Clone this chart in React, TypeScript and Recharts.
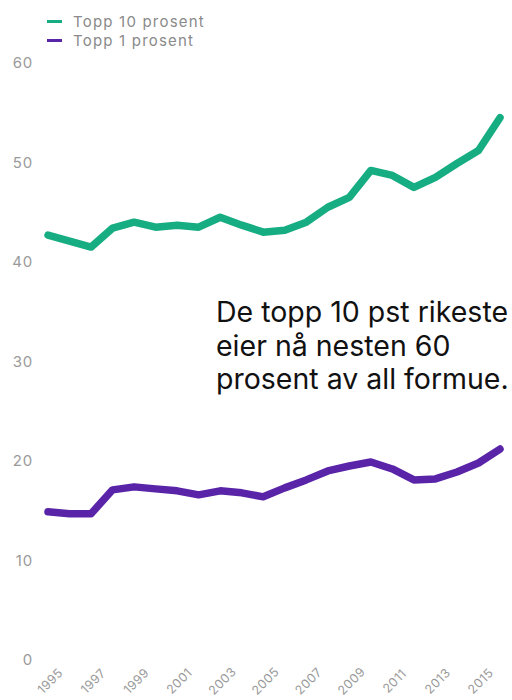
import { LineChart, Line, XAxis, YAxis } from 'recharts'

const FONT = "Inter, 'Noto Sans', sans-serif"

const years = [
  1995, 1996, 1997, 1998, 1999, 2000, 2001, 2002, 2003, 2004, 2005,
  2006, 2007, 2008, 2009, 2010, 2011, 2012, 2013, 2014, 2015, 2016,
]
const top10 = [
  42.7, 42.1, 41.5, 43.4, 44.0, 43.5, 43.7, 43.5, 44.5, 43.7, 43.0,
  43.2, 44.0, 45.5, 46.5, 49.2, 48.7, 47.5, 48.5, 49.9, 51.2, 54.5,
]
const top1 = [
  14.9, 14.7, 14.7, 17.1, 17.4, 17.2, 17.0, 16.6, 17.0, 16.8, 16.4,
  17.3, 18.1, 19.0, 19.5, 19.9, 19.2, 18.1, 18.2, 18.9, 19.8, 21.2,
]
const xTicks = [1995, 1997, 1999, 2001, 2003, 2005, 2007, 2009, 2011, 2013, 2015]
const yTicks = [0, 10, 20, 30, 40, 50, 60]

const GREEN = '#17ad82'
const PURPLE = '#5a24a8'

const series = [
  { key: 'top10', label: 'Topp 10 prosent', color: GREEN },
  { key: 'top1', label: 'Topp 1 prosent', color: PURPLE },
]

const data = years.map((year, i) => ({ year, top10: top10[i], top1: top1[i] }))

function YearTick({ x, y, payload }: any) {
  const cx = x + 2
  const cy = y + 21
  return (
    <text
      x={cx}
      y={cy}
      transform={`rotate(-45, ${cx}, ${cy})`}
      textAnchor="middle"
      dominantBaseline="central"
      fontSize={12.5}
      letterSpacing={0.4}
      fontFamily={FONT}
      fill="#9a9a9a"
    >
      {payload.value}
    </text>
  )
}

function LegendBox() {
  return (
    <div style={{ position: 'absolute', left: 47, top: 12, display: 'flex', flexDirection: 'column' }}>
      {series.map(it => (
        <div key={it.key} style={{ display: 'flex', alignItems: 'center', height: '19px' }}>
          <span style={{ width: '15px', height: '3px', background: it.color, marginRight: '11px' }} />
          <span style={{ fontSize: '15px', letterSpacing: '1.2px', fontFamily: FONT, color: '#8a8a8a', lineHeight: 1 }}>
            {it.label}
          </span>
        </div>
      ))}
    </div>
  )
}

export default function App() {
  return (
    <div style={{ position: 'absolute', left: 0, top: 0, width: 512, height: 700, background: '#fff', overflow: 'hidden' }}>
      <LineChart width={512} height={700} data={data} margin={{ top: 63, right: 0, bottom: 0, left: 0 }}>
        <XAxis
          dataKey="year"
          type="number"
          domain={[1995, 2016]}
          ticks={xTicks}
          padding={{ left: 15, right: 12 }}
          axisLine={false}
          tickLine={false}
          tickSize={0}
          tickMargin={0}
          height={40}
          interval={0}
          tick={<YearTick />}
        />
        <YAxis
          domain={[0, 60]}
          ticks={yTicks}
          width={33}
          axisLine={false}
          tickLine={false}
          tickSize={0}
          tickMargin={0}
          tick={{ fontSize: 15, letterSpacing: 0.8, fontFamily: FONT, fill: '#9a9a9a' }}
        />
        {series.map(s => (
          <Line
            key={s.key}
            type="linear"
            dataKey={s.key}
            stroke={s.color}
            strokeWidth={7.5}
            strokeLinecap="round"
            strokeLinejoin="round"
            dot={false}
            isAnimationActive={false}
          />
        ))}
      </LineChart>
      <LegendBox />
      <div
        style={{
          position: 'absolute',
          left: 216,
          top: 295,
          fontFamily: FONT,
          fontSize: '28.5px',
          lineHeight: '33.5px',
          color: '#111',
          whiteSpace: 'nowrap',
        }}
      >
        De topp 10 pst rikeste
        <br />
        eier nå nesten 60
        <br />
        prosent av all formue.
      </div>
    </div>
  )
}
